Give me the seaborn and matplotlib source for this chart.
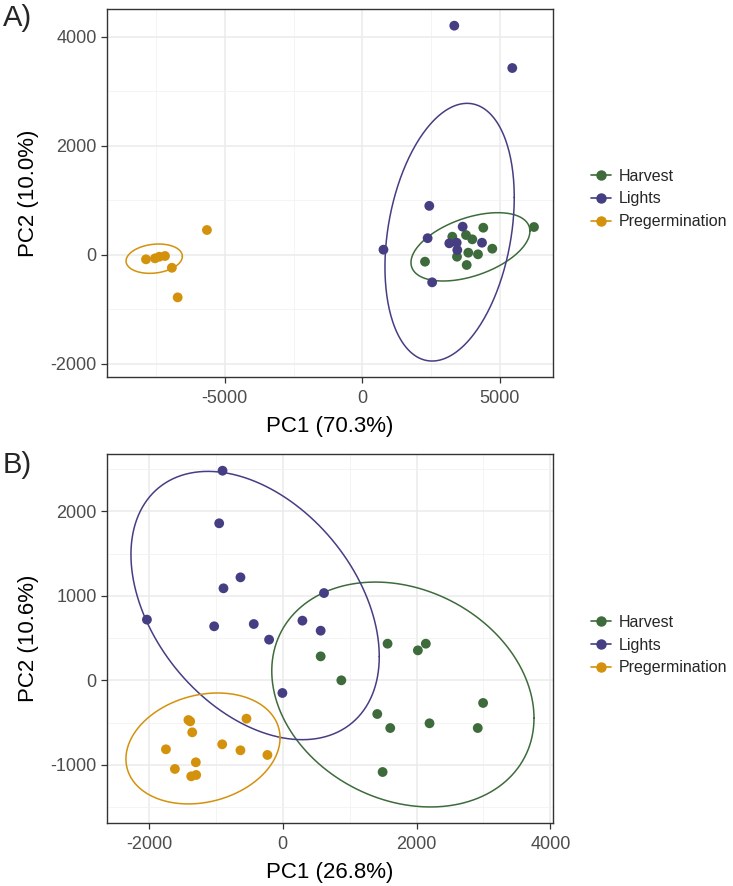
import matplotlib
matplotlib.use("Agg")
import matplotlib.pyplot as plt
from matplotlib.lines import Line2D
from matplotlib.ticker import MultipleLocator
import numpy as np
import pandas as pd
import seaborn as sns

groups = ["Harvest", "Lights", "Pregermination"]
colors = ["#3e6b3b", "#453e83", "#d4910c"]

# panel A scores
harvest_a_pc1 = [2280, 3273, 3771, 4000, 4400, 4727, 3444, 3855, 4207, 3796, 6244]
harvest_a_pc2 = [-128, 330, 361, 282, 495, 110, -37, 37, 7, -189, 508]
lights_a_pc1 = [3345, 5454, 2436, 770, 2376, 2540, 3650, 3164, 3433, 3455, 4353]
lights_a_pc2 = [4202, 3425, 896, 92, 303, -507, 514, 209, 220, 86, 220]
preg_a_pc1 = [-7866, -7539, -7381, -7175, -6925, -6714, -5650]
preg_a_pc2 = [-85, -67, -37, -24, -240, -783, 453]

# panel B scores
harvest_b_pc1 = [567, 876, 1567, 2020, 2139, 1413, 1607, 2194, 2995, 2915, 1493]
harvest_b_pc2 = [284, 0, 434, 355, 434, -399, -565, -509, -268, -565, -1086]
lights_b_pc1 = [-900, -950, -632, -886, -2030, -1025, -433, -204, 294, 617, 567, -5]
lights_b_pc2 = [2483, 1860, 1220, 1090, 719, 640, 667, 482, 707, 1034, 588, -150]
preg_b_pc1 = [-1383, -1410, -1353, -542, -905, -632, -229, -1746, -1612, -1299, -1368, -1294]
preg_b_pc2 = [-486, -470, -616, -454, -758, -829, -884, -817, -1050, -971, -1137, -1121]

# ellipses: centre x, centre y, half width, half height,
# cos of phase (y offset at the rightmost point / half height)
ell_a_cx = [3933, 3175, -7567]
ell_a_cy = [144, 413, -73]
ell_a_hw = [2163, 2351, 1024]
ell_a_hh = [627, 2364, 269]
ell_a_cos = [0.46, 0.27, 0.16]

ell_b_cx = [1796, -413, -1192]
ell_b_cy = [-168, 886, -807]
ell_b_hw = [1960, 1856, 1152]
ell_b_hh = [1332, 1589, 657]
ell_b_cos = [-0.21, -0.38, 0.19]

pca_a_labels = ["PC1 (70.3%)", "PC2 (10.0%)"]
pca_b_labels = ["PC1 (26.8%)", "PC2 (10.6%)"]


def scores(pc1s, pc2s):
    frames = []
    for g, x, y in zip(groups, pc1s, pc2s):
        frames.append(pd.DataFrame({"PC1": x, "PC2": y, "Group": g}))
    return pd.concat(frames, ignore_index=True)


dfA = scores([harvest_a_pc1, lights_a_pc1, preg_a_pc1],
             [harvest_a_pc2, lights_a_pc2, preg_a_pc2])
dfB = scores([harvest_b_pc1, lights_b_pc1, preg_b_pc1],
             [harvest_b_pc2, lights_b_pc2, preg_b_pc2])

sns.set_style("white")
plt.rcParams["font.family"] = ["Liberation Sans", "DejaVu Sans"]
plt.rcParams["axes.unicode_minus"] = False

pal = dict(zip(groups, colors))

fig = plt.figure(figsize=(7.33, 8.86), dpi=100)
W, H = 733, 886
axA = fig.add_axes([107 / W, 1 - 377 / H, 446 / W, 368 / H])
axB = fig.add_axes([107 / W, 1 - 823 / H, 446 / W, 369 / H])


def draw_panel(ax, df, cx, cy, hw, hh, cs, labels, xlim, ylim, xmaj, ymaj):
    t = np.linspace(0, 2 * np.pi, 300)
    for g, x0, y0, a, b, c in zip(groups, cx, cy, hw, hh, cs):
        phi = np.arccos(c)
        ax.plot(x0 + a * np.cos(t), y0 + b * np.cos(t + phi),
                color=pal[g], lw=1.1, zorder=2)
    sns.scatterplot(data=df, x="PC1", y="PC2", hue="Group", palette=pal,
                    s=50, edgecolor="none", alpha=1, legend=False, ax=ax, zorder=3)
    ax.set_xlim(*xlim)
    ax.set_ylim(*ylim)
    ax.xaxis.set_major_locator(MultipleLocator(xmaj))
    ax.xaxis.set_minor_locator(MultipleLocator(xmaj / 2))
    ax.yaxis.set_major_locator(MultipleLocator(ymaj))
    ax.yaxis.set_minor_locator(MultipleLocator(ymaj / 2))
    ax.grid(which="major", color="#ebebeb", lw=1.1, zorder=0)
    ax.grid(which="minor", color="#f2f2f2", lw=0.6, zorder=0)
    ax.set_axisbelow(True)
    for s in ax.spines.values():
        s.set_color("#333333")
        s.set_linewidth(1.0)
    ax.tick_params(which="major", direction="out", length=4, width=0.9,
                   color="#333333", labelsize=13, labelcolor="#4d4d4d",
                   bottom=True, left=True)
    ax.tick_params(axis="x", which="major", pad=5.5)
    ax.tick_params(axis="y", which="major", pad=3.5)
    ax.tick_params(which="minor", length=0)
    ax.set_xlabel(labels[0], fontsize=16, color="black", labelpad=6)
    ax.set_ylabel(labels[1], fontsize=16, color="black", labelpad=8)


draw_panel(axA, dfA, ell_a_cx, ell_a_cy, ell_a_hw, ell_a_hh, ell_a_cos,
           pca_a_labels, (-9284, 6935), (-2244, 4508), 5000, 2000)
draw_panel(axB, dfB, ell_b_cx, ell_b_cy, ell_b_hw, ell_b_hh, ell_b_cos,
           pca_b_labels, (-2627, 4040), (-1690, 2681), 2000, 1000)

handles = [Line2D([0], [0], color=c, marker="o", markersize=6.5, lw=1.2, label=g)
           for g, c in zip(groups, colors)]
for ypx in (199, 645):
    fig.legend(handles=handles, loc="center left",
               bbox_to_anchor=(585 / W, 1 - ypx / H), frameon=False,
               fontsize=11.5, handlelength=1.2, handletextpad=0.5,
               labelspacing=0.5, borderaxespad=0)

fig.text(3 / W, 1 - 18 / H, "A)", fontsize=21, va="center", ha="left")
fig.text(3 / W, 1 - 465 / H, "B)", fontsize=21, va="center", ha="left")

fig.savefig("out.png", dpi=100)
